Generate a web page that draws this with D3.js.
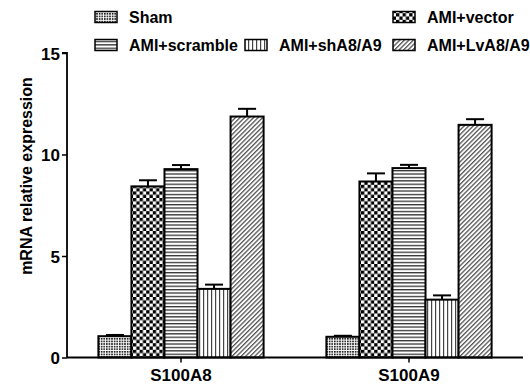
<!DOCTYPE html>
<html>
<head>
<meta charset="utf-8">
<script src="https://cdn.jsdelivr.net/npm/d3@7"></script>
<style>
  body { margin: 0; background: #fff; }
  text { font-family: "Liberation Sans", Arial, sans-serif; font-weight: bold; fill: #000; }
</style>
</head>
<body>
<div id="chart-container"></div>
<script>
// Chart data
const categories = ["S100A8", "S100A9"];
const groups = ["Sham", "AMI+vector", "AMI+scramble", "AMI+shA8/A9", "AMI+LvA8/A9"];
const shamMean = [1.05, 1.02];
const vectorMean = [8.43, 8.67];
const scrambleMean = [9.28, 9.33];
const shMean = [3.38, 2.85];
const lvMean = [11.87, 11.46];
const shamErr = [0.06, 0.05];
const vectorErr = [0.3, 0.4];
const scrambleErr = [0.2, 0.16];
const shErr = [0.21, 0.21];
const lvErr = [0.38, 0.28];
const yTicks = [0, 5, 10, 15];

const means = [shamMean, vectorMean, scrambleMean, shMean, lvMean];
const errs = [shamErr, vectorErr, scrambleErr, shErr, lvErr];

const width = 530;
const height = 388;
const margin = { top: 53, right: 7, bottom: 30, left: 67 };

const svg = d3.select("#chart-container")
  .append("svg")
  .attr("width", width)
  .attr("height", height);

// Fill patterns for each group
const defs = svg.append("defs");

const pSham = defs.append("pattern").attr("id", "p0")
  .attr("patternUnits", "userSpaceOnUse").attr("width", 2.6).attr("height", 2.6);
pSham.append("rect").attr("width", 2.6).attr("height", 2.6).attr("fill", "#fff");
pSham.append("rect").attr("width", 1.6).attr("height", 1.6).attr("fill", "#111");

const pVec = defs.append("pattern").attr("id", "p1")
  .attr("patternUnits", "userSpaceOnUse").attr("width", 6.6).attr("height", 6.6);
pVec.append("rect").attr("width", 6.6).attr("height", 6.6).attr("fill", "#fff");
pVec.append("rect").attr("width", 3.3).attr("height", 3.3).attr("fill", "#000");
pVec.append("rect").attr("x", 3.3).attr("y", 3.3).attr("width", 3.3).attr("height", 3.3).attr("fill", "#000");

const pScr = defs.append("pattern").attr("id", "p2")
  .attr("patternUnits", "userSpaceOnUse").attr("width", 4).attr("height", 3.4);
pScr.append("rect").attr("width", 4).attr("height", 3.4).attr("fill", "#fff");
pScr.append("rect").attr("y", 0).attr("width", 4).attr("height", 1.3).attr("fill", "#333");

const pSh = defs.append("pattern").attr("id", "p3")
  .attr("patternUnits", "userSpaceOnUse").attr("width", 4).attr("height", 4);
pSh.append("rect").attr("width", 4).attr("height", 4).attr("fill", "#fff");
pSh.append("rect").attr("x", 0).attr("width", 1.2).attr("height", 4).attr("fill", "#444");

const pLv = defs.append("pattern").attr("id", "p4")
  .attr("patternUnits", "userSpaceOnUse").attr("width", 3.2).attr("height", 3.2)
  .attr("patternTransform", "rotate(45)");
pLv.append("rect").attr("width", 3.2).attr("height", 3.2).attr("fill", "#fff");
pLv.append("rect").attr("width", 1.3).attr("height", 3.2).attr("fill", "#555");

// Scales
const x0 = d3.scaleBand()
  .domain(categories)
  .range([margin.left, width - margin.right]);

const x1 = d3.scaleBand()
  .domain(groups)
  .range([0, x0.bandwidth()])
  .paddingInner(0)
  .paddingOuter(0.95);

const y = d3.scaleLinear()
  .domain([0, 15])
  .range([height - margin.bottom - 0.5, margin.top]);

// Bars and error bars
categories.forEach((cat, ci) => {
  const g = svg.append("g").attr("transform", `translate(${x0(cat)},0)`);
  groups.forEach((grp, gi) => {
    const v = means[gi][ci];
    const e = errs[gi][ci];
    const bx = x1(grp);
    const bw = x1.bandwidth();
    const cx = bx + bw / 2;
    g.append("line")
      .attr("x1", cx).attr("x2", cx)
      .attr("y1", y(v)).attr("y2", y(v + e))
      .attr("stroke", "#000").attr("stroke-width", 2);
    g.append("line")
      .attr("x1", cx - 9).attr("x2", cx + 9)
      .attr("y1", y(v + e)).attr("y2", y(v + e))
      .attr("stroke", "#000").attr("stroke-width", 2);
    g.append("rect")
      .attr("x", bx)
      .attr("y", y(v))
      .attr("width", bw)
      .attr("height", y(0) - y(v))
      .attr("fill", `url(#p${gi})`)
      .attr("stroke", "#000")
      .attr("stroke-width", 2);
  });
});

// Axes
const yAxis = d3.axisLeft(y).tickValues(yTicks).tickSize(5).tickPadding(2);
const yg = svg.append("g")
  .attr("transform", `translate(${margin.left},0)`)
  .call(yAxis);
yg.select(".domain").attr("d", `M-5,${y(15)}H0V${y(0)}`).attr("stroke-width", 1.8);
yg.selectAll(".tick line").attr("stroke-width", 1.5);
yg.selectAll(".tick text").style("font-size", "17px").attr("dy", "0.36em");

const xAxis = d3.axisBottom(x0).tickSize(5).tickPadding(6);
const xg = svg.append("g")
  .attr("transform", `translate(0,${y(0)})`)
  .call(xAxis);
xg.select(".domain").attr("d", `M${margin.left},0H${width - margin.right}`).attr("stroke-width", 1.8);
xg.selectAll(".tick line").attr("stroke-width", 1.5);
xg.selectAll(".tick text").style("font-size", "17px");

// Y axis label
svg.append("text")
  .attr("transform", "translate(32,176) rotate(-90)")
  .style("text-anchor", "middle")
  .style("font-size", "16px")
  .text("mRNA relative expression");

// Legend
const legendItems = [
  { gi: 0, x: 95, y: 17 },
  { gi: 1, x: 393, y: 17 },
  { gi: 2, x: 95, y: 45 },
  { gi: 3, x: 245, y: 45 },
  { gi: 4, x: 393, y: 45 }
];
const legend = svg.append("g");
legendItems.forEach(d => {
  legend.append("rect")
    .attr("x", d.x).attr("y", d.y - 5.5)
    .attr("width", 22).attr("height", 11)
    .attr("fill", `url(#p${d.gi})`)
    .attr("stroke", "#000").attr("stroke-width", 1.5);
  legend.append("text")
    .attr("x", d.x + 34).attr("y", d.y)
    .attr("dy", "0.36em")
    .style("font-size", "16px")
    .text(groups[d.gi]);
});
</script>
</body>
</html>
